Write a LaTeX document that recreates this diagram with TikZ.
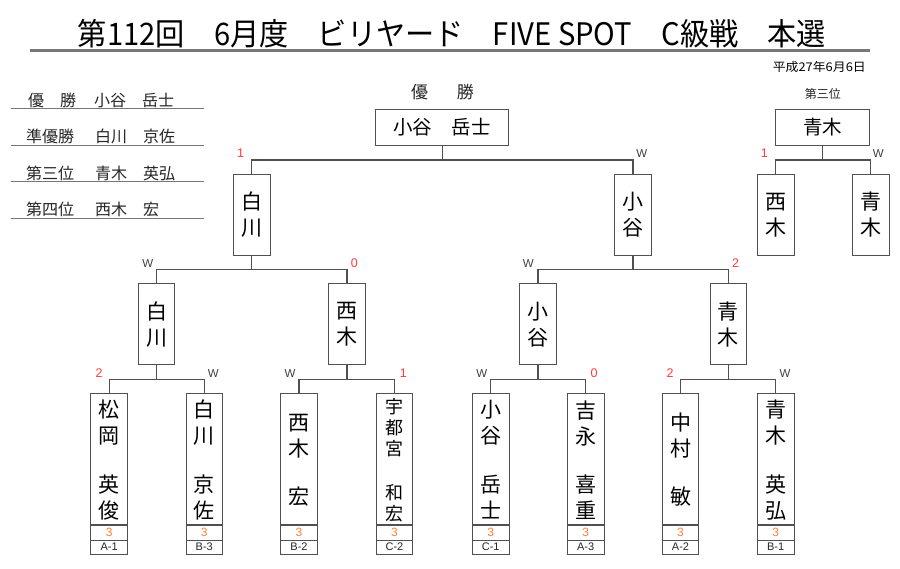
\documentclass[tikz,border=0pt]{standalone}
\usepackage{fontspec}
\usepackage{graphicx}
\setmainfont{Noto Sans CJK JP}
\newfontfamily\latinfont{Liberation Sans}
\usetikzlibrary{calc}
\definecolor{linegray}{HTML}{505050}
\definecolor{rulegray}{HTML}{777777}
\definecolor{losered}{HTML}{FF3B3B}
\definecolor{wingray}{HTML}{404040}
\definecolor{scoreorange}{HTML}{FF8040}
\tikzset{
  box/.style={draw=linegray, line width=1pt, inner sep=0pt, outer sep=0pt, fill=white, align=center},
  conn/.style={draw=linegray, line width=1.1pt},
  vname/.style={align=center, inner sep=0pt, font=\fontsize{21}{26}\selectfont},
  vsmall/.style={align=center, inner sep=0pt, font=\fontsize{18}{21}\selectfont},
  wlab/.style={inner sep=0pt, text=wingray, font=\latinfont\fontsize{11.5}{11}\selectfont},
  llab/.style={inner sep=0pt, text=losered, font=\latinfont\fontsize{12.5}{12}\selectfont},
  listtxt/.style={inner sep=0pt, anchor=west, font=\fontsize{16}{16}\selectfont, text=black!85},
  listrule/.style={draw=rulegray, line width=1.2pt},
}
\newcommand\bentry[8]{%
  \node[box, minimum width=36.6pt, minimum height=131.3pt] (#1) at (#2,459.3) {};
  \node[box, minimum width=36.6pt, minimum height=15pt, font=\latinfont\fontsize{12}{12}\selectfont, text=scoreorange] (#1s) at (#2,532.5) {3};
  \node[box, minimum width=36.6pt, minimum height=14pt, font=\latinfont\fontsize{11}{11}\selectfont, text=black!85] (#1c) at (#2,547) {#7};
  \node[#8] (#1f) at (#2,#4) {#3};
  \node[#8] (#1g) at (#2,#6) {#5};
}
\begin{document}
\begin{tikzpicture}[x=1pt,y=-1pt]
\useasboundingbox (0,0) rectangle (900,568);
\fill[white] (0,0) rectangle (900,568);

% title
\node[inner sep=0pt] (title) at (452,34) {\resizebox{748pt}{\height}{\fontsize{31}{31}\selectfont 第112回　6月度　ビリヤード　FIVE SPOT　C級戦　本選}};
\draw[draw=rulegray, line width=2.4pt] (30,50.5) -- (870,50.5);
\node[inner sep=0pt, anchor=east] (date) at (866,67) {\resizebox{93pt}{\height}{\fontsize{12}{12}\selectfont 平成27年6月6日}};

% left list
\node[listtxt] (l1a) at (28,100) {優　勝};
\node[listtxt] (l1b) at (94,100) {小谷　岳士};
\draw[listrule] (11,108.5) -- (204,108.5);
\node[listtxt] (l2a) at (26,136.5) {準優勝};
\node[listtxt] (l2b) at (95,136.5) {白川　京佐};
\draw[listrule] (11,145.5) -- (204,145.5);
\node[listtxt] (l3a) at (26,173) {第三位};
\node[listtxt] (l3b) at (95,173) {青木　英弘};
\draw[listrule] (11,181.5) -- (204,181.5);
\node[listtxt] (l4a) at (26,209.5) {第四位};
\node[listtxt] (l4b) at (95,209.5) {西木　宏};
\draw[listrule] (11,218.5) -- (204,218.5);

% final
\node[inner sep=0pt, font=\fontsize{17}{17}\selectfont, text=black!85] (fintitle) at (442.5,92) {優\hspace{29pt}勝};
\node[box, minimum width=133pt, minimum height=36.3pt, font=\fontsize{19.5}{20}\selectfont] (fin) at (442.2,127.2) {小谷　岳士};

% semifinals
\node[box, minimum width=36.6pt, minimum height=80.5pt, font=\fontsize{21}{26}\selectfont] (sf1) at (251.7,215) {白\\川};
\node[box, minimum width=36.6pt, minimum height=80.5pt, font=\fontsize{21}{26}\selectfont] (sf2) at (633,215) {小\\谷};

% quarterfinals
\node[box, minimum width=36.6pt, minimum height=80.5pt, font=\fontsize{21}{26}\selectfont] (qf1) at (156.5,324.2) {白\\川};
\node[box, minimum width=36.6pt, minimum height=80.5pt, font=\fontsize{21}{26}\selectfont] (qf2) at (347,324.2) {西\\木};
\node[box, minimum width=36.6pt, minimum height=80.5pt, font=\fontsize{21}{26}\selectfont] (qf3) at (538,324.2) {小\\谷};
\node[box, minimum width=36.6pt, minimum height=80.5pt, font=\fontsize{21}{26}\selectfont] (qf4) at (728.4,324.2) {青\\木};

% first round
\bentry{b1}{109.2}{松\\岡}{423}{英\\俊}{497.5}{A-1}{vname}
\bentry{b2}{204.3}{白\\川}{423}{京\\佐}{497.5}{B-3}{vname}
\bentry{b3}{299}{西\\木}{436}{宏}{497}{B-2}{vname}
\bentry{b4}{394.5}{宇\\都\\宮}{428}{和\\宏}{503.5}{C-2}{vsmall}
\bentry{b5}{490.7}{小\\谷}{423}{岳\\士}{497.5}{C-1}{vname}
\bentry{b6}{585.7}{吉\\永}{423}{喜\\重}{497.5}{A-3}{vname}
\bentry{b7}{680.5}{中\\村}{436}{敏}{497}{A-2}{vname}
\bentry{b8}{775.7}{青\\木}{423}{英\\弘}{497.5}{B-1}{vname}

% third place
\node[inner sep=0pt, font=\fontsize{12}{12}\selectfont, text=black!85] (tptitle) at (822.8,94) {第三位};
\node[box, minimum width=94.3pt, minimum height=36pt, font=\fontsize{19.5}{20}\selectfont] (tp) at (822.8,127.2) {青木};
\node[box, minimum width=36.6pt, minimum height=80.5pt, font=\fontsize{21}{26}\selectfont] (tp1) at (775.7,215) {西\\木};
\node[box, minimum width=36.6pt, minimum height=80.5pt, font=\fontsize{21}{26}\selectfont] (tp2) at (870.7,215) {青\\木};

% junctions
\coordinate (jf) at (442.2,160);
\coordinate (jt) at (822.8,160);
\coordinate (js1) at (251.7,269.8);
\coordinate (js2) at (633,269.8);
\coordinate (jq1) at (156.5,379.5);
\coordinate (jq2) at (347,379.5);
\coordinate (jq3) at (538,379.5);
\coordinate (jq4) at (728.4,379.5);

\draw[conn] (fin.south) -- (jf);
\draw[conn] (sf1.north) |- (jf) -| (sf2.north);
\draw[conn] (tp.south) -- (jt);
\draw[conn] (tp1.north) |- (jt) -| (tp2.north);
\draw[conn] (sf1.south) -- (js1);
\draw[conn] (qf1.north) |- (js1) -| (qf2.north);
\draw[conn] (sf2.south) -- (js2);
\draw[conn] (qf3.north) |- (js2) -| (qf4.north);
\draw[conn] (qf1.south) -- (jq1);
\draw[conn] (b1.north) |- (jq1) -| (b2.north);
\draw[conn] (qf2.south) -- (jq2);
\draw[conn] (b3.north) |- (jq2) -| (b4.north);
\draw[conn] (qf3.south) -- (jq3);
\draw[conn] (b5.north) |- (jq3) -| (b6.north);
\draw[conn] (qf4.south) -- (jq4);
\draw[conn] (b7.north) |- (jq4) -| (b8.north);

% result labels
\node[llab] (r1) at (240.7,153.3) {1};
\node[wlab] (r2) at (641.7,153.3) {W};
\node[llab] (r3) at (764.3,153.3) {1};
\node[wlab] (r4) at (878.3,153.3) {W};
\node[wlab] (r5) at (147.7,263.3) {W};
\node[llab] (r6) at (354.3,263.3) {0};
\node[wlab] (r7) at (528.3,263.3) {W};
\node[llab] (r8) at (735.7,263.3) {2};
\node[llab] (r9) at (99,373.3) {2};
\node[wlab] (r10) at (213.3,373.3) {W};
\node[wlab] (r11) at (290,373.3) {W};
\node[llab] (r12) at (403.3,373.3) {1};
\node[wlab] (r13) at (481.7,373.3) {W};
\node[llab] (r14) at (594,373.3) {0};
\node[llab] (r15) at (670,373.3) {2};
\node[wlab] (r16) at (785,373.3) {W};
\end{tikzpicture}
\end{document}
